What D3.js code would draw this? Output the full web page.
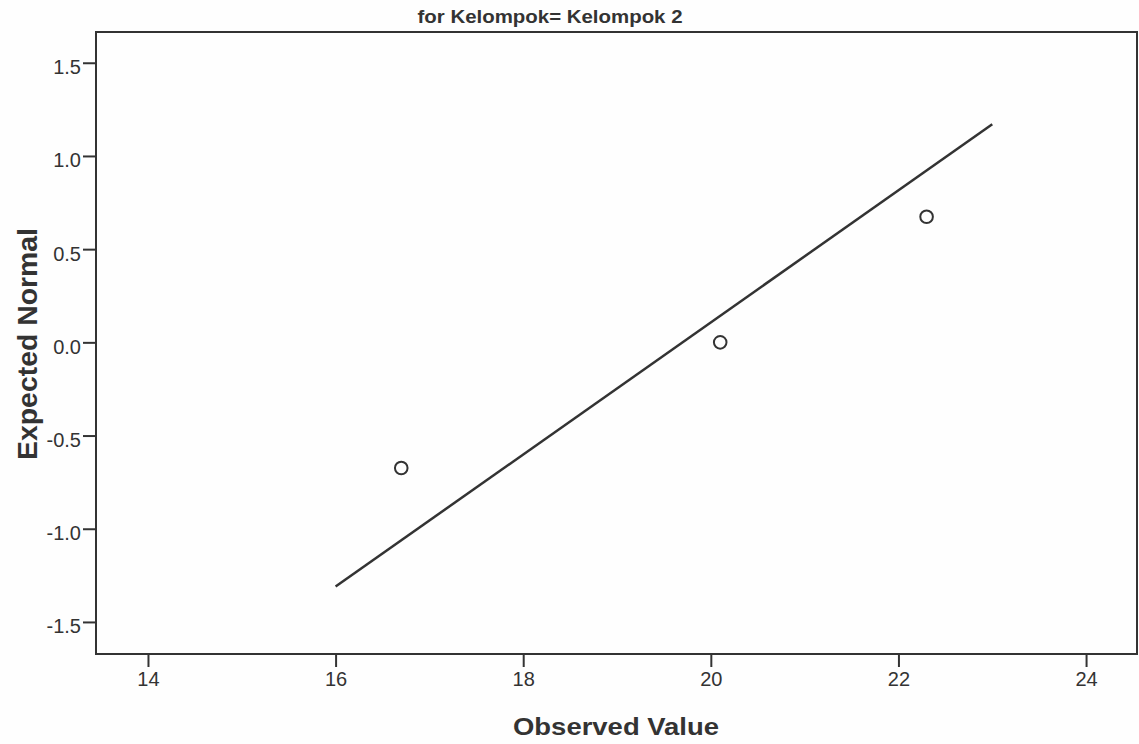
<!DOCTYPE html>
<html>
<head>
<meta charset="utf-8">
<script src="https://cdn.jsdelivr.net/npm/d3@7"></script>
<style>
  body { margin: 0; background: #fefefe; }
  text { font-family: "Liberation Sans", Arial, sans-serif; fill: #333; }
</style>
</head>
<body>
<div id="chart"></div>
<script>
// observed values and their expected normal scores
const observed = [16.7, 20.1, 22.3];
const expectedNormal = [-0.674, 0.0, 0.674];

// reference line endpoints (x, y)
const lineX = [16, 23];
const lineY = [-1.31, 1.17];

const xTicks = [14, 16, 18, 20, 22, 24];
const yTicks = [1.5, 1.0, 0.5, 0.0, -0.5, -1.0, -1.5];

const titleText = "for Kelompok= Kelompok 2";
const xLabel = "Observed Value";
const yLabel = "Expected Normal";

const width = 1139, height = 744;
const m = { left: 96, right: 1137, top: 32, bottom: 654 };

let svg = d3.select("#chart").append("svg")
    .attr("width", width).attr("height", height);

// scales
let x = d3.scaleLinear().domain([13.446, 24.543]).range([m.left, m.right]);
let y = d3.scaleLinear().domain([-1.672, 1.665]).range([m.bottom, m.top]);

// plain hyphen for negatives, like the original
let fmt = d => d.toFixed(1);

// y axis
let yAxis = svg.append("g").attr("transform", `translate(${m.left},0)`)
    .call(d3.axisLeft(y).tickValues(yTicks).tickSize(13).tickPadding(2)
        .tickFormat(fmt));
yAxis.select(".domain").remove();
yAxis.selectAll(".tick line").attr("stroke", "#333").attr("stroke-width", 2);
yAxis.selectAll(".tick text").attr("font-size", 20).attr("dy", "0.55em")
    .style("fill", "#333").attr("font-family", null);

// x axis
let xAxis = svg.append("g").attr("transform", `translate(0,${m.bottom})`)
    .call(d3.axisBottom(x).tickValues(xTicks).tickSize(13).tickPadding(5));
xAxis.select(".domain").remove();
xAxis.selectAll(".tick line").attr("stroke", "#333").attr("stroke-width", 2);
xAxis.selectAll(".tick text").attr("font-size", 20)
    .style("fill", "#333").attr("font-family", null);

// frame
svg.append("rect")
    .attr("x", m.left).attr("y", m.top)
    .attr("width", m.right - m.left).attr("height", m.bottom - m.top)
    .attr("fill", "none").attr("stroke", "#333").attr("stroke-width", 2);

// reference line
let lineData = lineX.map((v, i) => ({ x: v, y: lineY[i] }));
svg.append("path")
    .datum(lineData)
    .attr("d", d3.line().x(d => x(d.x)).y(d => y(d.y)))
    .attr("fill", "none").attr("stroke", "#333").attr("stroke-width", 2.5);

// points
svg.selectAll(".pt")
    .data(observed.map((v, i) => ({ x: v, y: expectedNormal[i] })))
    .enter().append("circle")
    .attr("class", "pt")
    .attr("cx", d => x(d.x)).attr("cy", d => y(d.y))
    .attr("r", 6.3)
    .attr("fill", "none").attr("stroke", "#333").attr("stroke-width", 2);

// title
svg.append("text")
    .attr("x", 550).attr("y", 22.5).attr("text-anchor", "middle")
    .attr("font-size", 18).attr("font-weight", "bold")
    .attr("textLength", 265).attr("lengthAdjust", "spacingAndGlyphs")
    .text(titleText);

// x label
svg.append("text")
    .attr("x", 616).attr("y", 735).attr("text-anchor", "middle")
    .attr("font-size", 24).attr("font-weight", "bold")
    .attr("textLength", 206).attr("lengthAdjust", "spacingAndGlyphs")
    .text(xLabel);

// y label
svg.append("text")
    .attr("transform", "translate(37,344) rotate(-90)")
    .attr("text-anchor", "middle")
    .attr("font-size", 27).attr("font-weight", "bold")
    .attr("textLength", 232).attr("lengthAdjust", "spacingAndGlyphs")
    .text(yLabel);
</script>
</body>
</html>
